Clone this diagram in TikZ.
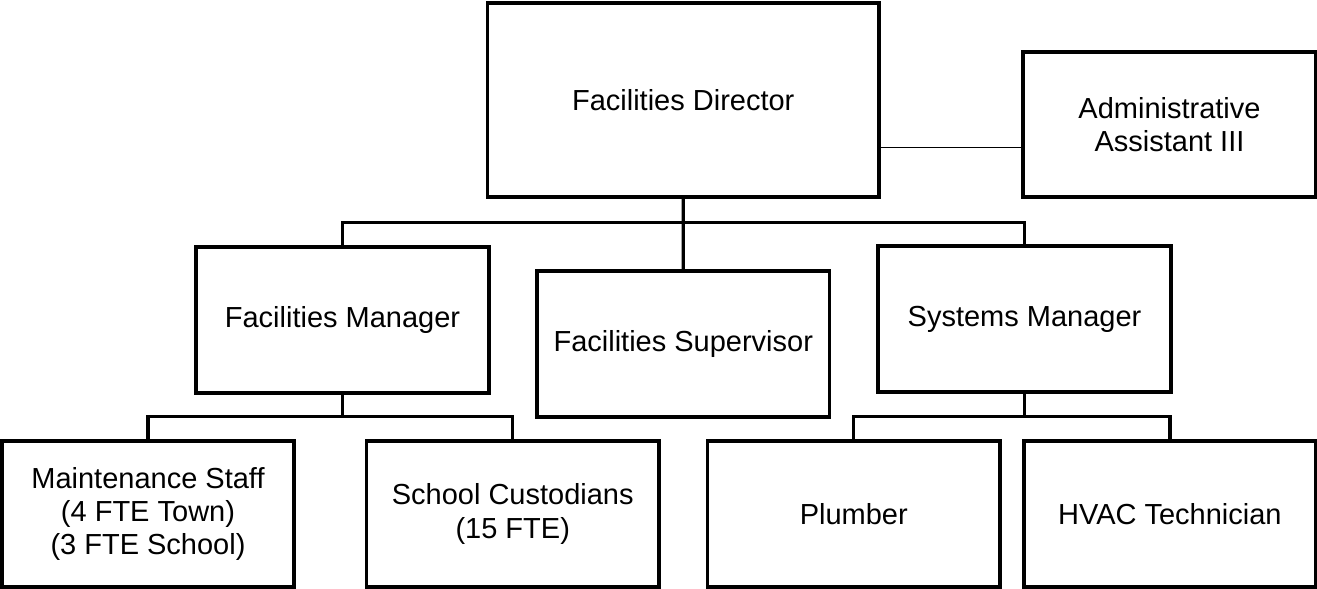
\documentclass[tikz,border=0pt]{standalone}
\usepackage{fontspec}
\setmainfont{Liberation Sans}
\begin{document}
\begin{tikzpicture}[
    box/.style={draw, line width=2.2pt, minimum width=5.85cm, minimum height=2.92cm,
        inner sep=0pt, align=center, font=\fontsize{16.5}{19}\selectfont},
    bus/.style={line width=1.9pt},
    assist/.style={line width=1pt}]
    \useasboundingbox (0,0) rectangle (26.34,11.78);

    % Draw top row
    \node[box, minimum width=7.83cm, minimum height=3.88cm] (dir) at (13.665,9.78) {Facilities Director};
    \node[box, minimum height=2.9cm] (admin) at (23.39,9.29) {Administrative\\Assistant III};

    % Draw managers
    \node[box] (fm) at (6.85,5.386) {Facilities Manager};
    \node[box] (sup) at (13.666,4.903) {Facilities Supervisor};
    \node[box] (sm) at (20.49,5.393) {Systems Manager};

    % Draw staff
    \node[box] (maint) at (2.96,1.5) {Maintenance Staff\\(4 FTE Town)\\(3 FTE School)};
    \node[box] (cust) at (10.255,1.5) {School Custodians\\(15 FTE)};
    \node[box] (plumb) at (17.076,1.5) {Plumber};
    \node[box] (hvac) at (23.397,1.5) {HVAC Technician};

    % Draw connectors
    \coordinate (topbus) at (13.665,7.326);
    \coordinate (fmbus) at (6.85,3.45);
    \coordinate (smbus) at (20.49,3.45);
    \draw[assist] ([yshift=-0.46cm]admin.west) -- ([yshift=-0.46cm]admin.west -| dir.east);
    \draw[bus] (dir.south) -- (sup.north);
    \draw[bus] (fm.north) |- (topbus) -| (sm.north);
    \draw[bus] (fm.south) -- (fmbus);
    \draw[bus] (maint.north) |- (fmbus) -| (cust.north);
    \draw[bus] (sm.south) -- (smbus);
    \draw[bus] (plumb.north) |- (smbus) -| (hvac.north);
\end{tikzpicture}
\end{document}
